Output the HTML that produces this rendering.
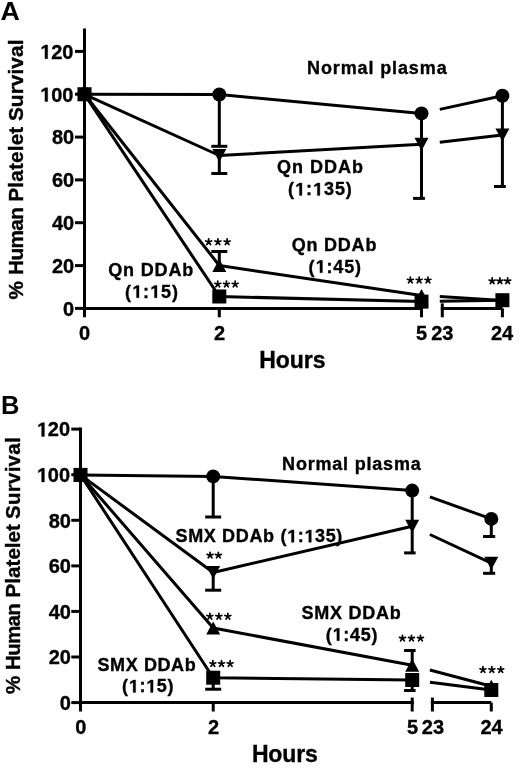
<!DOCTYPE html>
<html><head><meta charset="utf-8"><style>
html,body{margin:0;padding:0;background:#fff;}
svg{display:block;will-change:transform;}
.h1{fill:none;stroke:none;}
text{font-family:"Liberation Sans", sans-serif;fill:#000;stroke:#000;stroke-width:0.35px;}
</style></head><body>
<svg width="520" height="768" viewBox="0 0 520 768">
<g stroke="#000" fill="#000">
<line x1="84.5" y1="28.5" x2="84.5" y2="317.3" stroke-width="3.0" stroke-linecap="butt"/>
<line x1="75.0" y1="308.4" x2="84.5" y2="308.4" stroke-width="3.0" stroke-linecap="butt"/>
<line x1="75.0" y1="265.6" x2="84.5" y2="265.6" stroke-width="3.0" stroke-linecap="butt"/>
<line x1="75.0" y1="222.7" x2="84.5" y2="222.7" stroke-width="3.0" stroke-linecap="butt"/>
<line x1="75.0" y1="179.9" x2="84.5" y2="179.9" stroke-width="3.0" stroke-linecap="butt"/>
<line x1="75.0" y1="137.1" x2="84.5" y2="137.1" stroke-width="3.0" stroke-linecap="butt"/>
<line x1="75.0" y1="94.2" x2="84.5" y2="94.2" stroke-width="3.0" stroke-linecap="butt"/>
<line x1="75.0" y1="51.4" x2="84.5" y2="51.4" stroke-width="3.0" stroke-linecap="butt"/>
<line x1="84.5" y1="308.4" x2="423.0" y2="308.4" stroke-width="3.0" stroke-linecap="butt"/>
<line x1="219.3" y1="308.4" x2="219.3" y2="317.3" stroke-width="3.0" stroke-linecap="butt"/>
<line x1="421.5" y1="308.4" x2="421.5" y2="317.3" stroke-width="3.0" stroke-linecap="butt"/>
<line x1="421.5" y1="303.4" x2="421.5" y2="308.4" stroke-width="3.0" stroke-linecap="butt"/>
<line x1="440.8" y1="308.4" x2="502.4" y2="308.4" stroke-width="3.0" stroke-linecap="butt"/>
<line x1="442.3" y1="303.4" x2="442.3" y2="317.3" stroke-width="3.0" stroke-linecap="butt"/>
<line x1="502.4" y1="308.4" x2="502.4" y2="317.3" stroke-width="3.0" stroke-linecap="butt"/>
<polyline points="84.5,94.3 219.3,94.5 421.5,113.4" fill="none" stroke-width="3.0" stroke-linejoin="round"/>
<line x1="439.8" y1="109.4" x2="502.4" y2="95.8" stroke-width="3.0" stroke-linecap="butt"/>
<polyline points="84.5,94.3 219.3,155.5 421.5,144.3" fill="none" stroke-width="3.0" stroke-linejoin="round"/>
<line x1="439.8" y1="142.2" x2="502.4" y2="135.0" stroke-width="3.0" stroke-linecap="butt"/>
<polyline points="84.5,94.3 219.3,265.5 421.5,295.5" fill="none" stroke-width="3.0" stroke-linejoin="round"/>
<line x1="439.8" y1="296.6" x2="502.4" y2="300.5" stroke-width="3.0" stroke-linecap="butt"/>
<polyline points="84.5,94.3 219.3,296.5 421.5,301.6" fill="none" stroke-width="3.0" stroke-linejoin="round"/>
<line x1="439.8" y1="301.3" x2="502.4" y2="300.2" stroke-width="3.0" stroke-linecap="butt"/>
<line x1="219.3" y1="94.5" x2="219.3" y2="146.3" stroke-width="3.0" stroke-linecap="butt"/>
<line x1="211.3" y1="146.3" x2="227.3" y2="146.3" stroke-width="3.0" stroke-linecap="butt"/>
<line x1="421.5" y1="113.4" x2="421.5" y2="140.0" stroke-width="3.0" stroke-linecap="butt"/>
<line x1="502.4" y1="95.8" x2="502.4" y2="130.0" stroke-width="3.0" stroke-linecap="butt"/>
<line x1="219.3" y1="155.5" x2="219.3" y2="173.5" stroke-width="3.0" stroke-linecap="butt"/>
<line x1="211.3" y1="173.5" x2="227.3" y2="173.5" stroke-width="3.0" stroke-linecap="butt"/>
<line x1="421.5" y1="144.3" x2="421.5" y2="198.4" stroke-width="3.0" stroke-linecap="butt"/>
<line x1="413.1" y1="198.4" x2="424.9" y2="198.4" stroke-width="3.0" stroke-linecap="butt"/>
<line x1="502.4" y1="135.0" x2="502.4" y2="186.5" stroke-width="3.0" stroke-linecap="butt"/>
<line x1="494.0" y1="186.5" x2="505.8" y2="186.5" stroke-width="3.0" stroke-linecap="butt"/>
<line x1="219.3" y1="265.5" x2="219.3" y2="251.5" stroke-width="3.0" stroke-linecap="butt"/>
<line x1="211.3" y1="251.5" x2="227.3" y2="251.5" stroke-width="3.0" stroke-linecap="butt"/>
<circle cx="84.5" cy="94.3" r="7" stroke="none"/>
<circle cx="219.3" cy="94.5" r="7" stroke="none"/>
<circle cx="421.5" cy="113.4" r="7" stroke="none"/>
<circle cx="502.4" cy="95.8" r="7" stroke="none"/>
<polygon points="77.5,87.8 91.5,87.8 84.5,100.8" stroke="none"/>
<polygon points="212.3,149.0 226.3,149.0 219.3,162.0" stroke="none"/>
<polygon points="414.5,137.8 428.5,137.8 421.5,150.8" stroke="none"/>
<polygon points="495.4,128.5 509.4,128.5 502.4,141.5" stroke="none"/>
<polygon points="84.5,87.8 91.5,100.8 77.5,100.8" stroke="none"/>
<polygon points="219.3,259.0 226.3,272.0 212.3,272.0" stroke="none"/>
<polygon points="421.5,289.0 428.5,302.0 414.5,302.0" stroke="none"/>
<polygon points="502.4,294.0 509.4,307.0 495.4,307.0" stroke="none"/>
<rect x="77.5" y="87.3" width="14" height="14" stroke="none"/>
<rect x="212.3" y="289.5" width="14" height="14" stroke="none"/>
<rect x="414.5" y="294.6" width="14" height="14" stroke="none"/>
<rect x="495.4" y="293.2" width="14" height="14" stroke="none"/>
<line x1="80.5" y1="427.6" x2="80.5" y2="711.5" stroke-width="3.0" stroke-linecap="butt"/>
<line x1="71.3" y1="702.6" x2="80.5" y2="702.6" stroke-width="3.0" stroke-linecap="butt"/>
<line x1="71.3" y1="657.0" x2="80.5" y2="657.0" stroke-width="3.0" stroke-linecap="butt"/>
<line x1="71.3" y1="611.4" x2="80.5" y2="611.4" stroke-width="3.0" stroke-linecap="butt"/>
<line x1="71.3" y1="565.9" x2="80.5" y2="565.9" stroke-width="3.0" stroke-linecap="butt"/>
<line x1="71.3" y1="520.3" x2="80.5" y2="520.3" stroke-width="3.0" stroke-linecap="butt"/>
<line x1="71.3" y1="474.7" x2="80.5" y2="474.7" stroke-width="3.0" stroke-linecap="butt"/>
<line x1="71.3" y1="429.1" x2="80.5" y2="429.1" stroke-width="3.0" stroke-linecap="butt"/>
<line x1="80.5" y1="702.6" x2="413.8" y2="702.6" stroke-width="3.0" stroke-linecap="butt"/>
<line x1="213.2" y1="702.6" x2="213.2" y2="711.5" stroke-width="3.0" stroke-linecap="butt"/>
<line x1="412.2" y1="702.6" x2="412.2" y2="711.5" stroke-width="3.0" stroke-linecap="butt"/>
<line x1="412.2" y1="697.6" x2="412.2" y2="702.6" stroke-width="3.0" stroke-linecap="butt"/>
<line x1="430.9" y1="702.6" x2="491.3" y2="702.6" stroke-width="3.0" stroke-linecap="butt"/>
<line x1="432.4" y1="697.6" x2="432.4" y2="711.5" stroke-width="3.0" stroke-linecap="butt"/>
<line x1="491.3" y1="702.6" x2="491.3" y2="711.5" stroke-width="3.0" stroke-linecap="butt"/>
<polyline points="80.5,474.9 213.2,476.4 412.2,490.6" fill="none" stroke-width="3.0" stroke-linejoin="round"/>
<line x1="429.9" y1="496.9" x2="491.3" y2="518.9" stroke-width="3.0" stroke-linecap="butt"/>
<polyline points="80.5,474.9 213.2,572.5 412.2,526.3" fill="none" stroke-width="3.0" stroke-linejoin="round"/>
<line x1="429.9" y1="534.5" x2="491.3" y2="563.2" stroke-width="3.0" stroke-linecap="butt"/>
<polyline points="80.5,474.9 213.2,628.0 412.2,665.3" fill="none" stroke-width="3.0" stroke-linejoin="round"/>
<line x1="429.9" y1="670.0" x2="491.3" y2="686.2" stroke-width="3.0" stroke-linecap="butt"/>
<polyline points="80.5,474.9 213.2,677.7 412.2,680.0" fill="none" stroke-width="3.0" stroke-linejoin="round"/>
<line x1="429.9" y1="682.2" x2="491.3" y2="690.0" stroke-width="3.0" stroke-linecap="butt"/>
<line x1="213.2" y1="476.4" x2="213.2" y2="517.0" stroke-width="3.0" stroke-linecap="butt"/>
<line x1="205.2" y1="517.0" x2="221.2" y2="517.0" stroke-width="3.0" stroke-linecap="butt"/>
<line x1="412.2" y1="490.6" x2="412.2" y2="521.0" stroke-width="3.0" stroke-linecap="butt"/>
<line x1="491.3" y1="518.9" x2="491.3" y2="536.5" stroke-width="3.0" stroke-linecap="butt"/>
<line x1="483.0" y1="536.5" x2="495.2" y2="536.5" stroke-width="3.0" stroke-linecap="butt"/>
<line x1="213.2" y1="572.5" x2="213.2" y2="590.2" stroke-width="3.0" stroke-linecap="butt"/>
<line x1="205.2" y1="590.2" x2="221.2" y2="590.2" stroke-width="3.0" stroke-linecap="butt"/>
<line x1="412.2" y1="526.3" x2="412.2" y2="552.9" stroke-width="3.0" stroke-linecap="butt"/>
<line x1="404.1" y1="552.9" x2="415.6" y2="552.9" stroke-width="3.0" stroke-linecap="butt"/>
<line x1="491.3" y1="563.2" x2="491.3" y2="573.3" stroke-width="3.0" stroke-linecap="butt"/>
<line x1="483.0" y1="573.3" x2="495.2" y2="573.3" stroke-width="3.0" stroke-linecap="butt"/>
<line x1="412.2" y1="665.3" x2="412.2" y2="650.5" stroke-width="3.0" stroke-linecap="butt"/>
<line x1="404.1" y1="650.5" x2="415.6" y2="650.5" stroke-width="3.0" stroke-linecap="butt"/>
<line x1="213.2" y1="677.7" x2="213.2" y2="689.2" stroke-width="3.0" stroke-linecap="butt"/>
<line x1="205.2" y1="689.2" x2="221.2" y2="689.2" stroke-width="3.0" stroke-linecap="butt"/>
<line x1="412.2" y1="680.0" x2="412.2" y2="690.5" stroke-width="3.0" stroke-linecap="butt"/>
<line x1="404.1" y1="690.5" x2="415.6" y2="690.5" stroke-width="3.0" stroke-linecap="butt"/>
<circle cx="80.5" cy="474.9" r="7" stroke="none"/>
<circle cx="213.2" cy="476.4" r="7" stroke="none"/>
<circle cx="412.2" cy="490.6" r="7" stroke="none"/>
<circle cx="491.3" cy="518.9" r="7" stroke="none"/>
<polygon points="73.5,468.4 87.5,468.4 80.5,481.4" stroke="none"/>
<polygon points="206.2,566.0 220.2,566.0 213.2,579.0" stroke="none"/>
<polygon points="405.2,519.8 419.2,519.8 412.2,532.8" stroke="none"/>
<polygon points="484.3,556.7 498.3,556.7 491.3,569.7" stroke="none"/>
<polygon points="80.5,468.4 87.5,481.4 73.5,481.4" stroke="none"/>
<polygon points="213.2,621.5 220.2,634.5 206.2,634.5" stroke="none"/>
<polygon points="412.2,658.8 419.2,671.8 405.2,671.8" stroke="none"/>
<polygon points="491.3,679.7 498.3,692.7 484.3,692.7" stroke="none"/>
<rect x="73.5" y="467.9" width="14" height="14" stroke="none"/>
<rect x="206.2" y="670.7" width="14" height="14" stroke="none"/>
<rect x="405.2" y="673.0" width="14" height="14" stroke="none"/>
<rect x="484.3" y="683.0" width="14" height="14" stroke="none"/>
<path d="M208.65 241.95L208.65 238.85M208.65 241.95L211.60 240.99M208.65 241.95L210.47 244.46M208.65 241.95L206.83 244.46M208.65 241.95L205.70 240.99" fill="none" stroke-width="1.75" stroke-linecap="round"/>
<path d="M217.90 241.95L217.90 238.85M217.90 241.95L220.85 240.99M217.90 241.95L219.72 244.46M217.90 241.95L216.08 244.46M217.90 241.95L214.95 240.99" fill="none" stroke-width="1.75" stroke-linecap="round"/>
<path d="M227.15 241.95L227.15 238.85M227.15 241.95L230.10 240.99M227.15 241.95L228.97 244.46M227.15 241.95L225.33 244.46M227.15 241.95L224.20 240.99" fill="none" stroke-width="1.75" stroke-linecap="round"/>
<path d="M217.75 284.25L217.75 281.15M217.75 284.25L220.70 283.29M217.75 284.25L219.57 286.76M217.75 284.25L215.93 286.76M217.75 284.25L214.80 283.29" fill="none" stroke-width="1.75" stroke-linecap="round"/>
<path d="M226.45 284.25L226.45 281.15M226.45 284.25L229.40 283.29M226.45 284.25L228.27 286.76M226.45 284.25L224.63 286.76M226.45 284.25L223.50 283.29" fill="none" stroke-width="1.75" stroke-linecap="round"/>
<path d="M235.15 284.25L235.15 281.15M235.15 284.25L238.10 283.29M235.15 284.25L236.97 286.76M235.15 284.25L233.33 286.76M235.15 284.25L232.20 283.29" fill="none" stroke-width="1.75" stroke-linecap="round"/>
<path d="M410.35 280.25L410.35 277.15M410.35 280.25L413.30 279.29M410.35 280.25L412.17 282.76M410.35 280.25L408.53 282.76M410.35 280.25L407.40 279.29" fill="none" stroke-width="1.75" stroke-linecap="round"/>
<path d="M419.15 280.25L419.15 277.15M419.15 280.25L422.10 279.29M419.15 280.25L420.97 282.76M419.15 280.25L417.33 282.76M419.15 280.25L416.20 279.29" fill="none" stroke-width="1.75" stroke-linecap="round"/>
<path d="M427.95 280.25L427.95 277.15M427.95 280.25L430.90 279.29M427.95 280.25L429.77 282.76M427.95 280.25L426.13 282.76M427.95 280.25L425.00 279.29" fill="none" stroke-width="1.75" stroke-linecap="round"/>
<path d="M492.15 281.05L492.15 277.95M492.15 281.05L495.10 280.09M492.15 281.05L493.97 283.56M492.15 281.05L490.33 283.56M492.15 281.05L489.20 280.09" fill="none" stroke-width="1.75" stroke-linecap="round"/>
<path d="M499.90 281.05L499.90 277.95M499.90 281.05L502.85 280.09M499.90 281.05L501.72 283.56M499.90 281.05L498.08 283.56M499.90 281.05L496.95 280.09" fill="none" stroke-width="1.75" stroke-linecap="round"/>
<path d="M507.65 281.05L507.65 277.95M507.65 281.05L510.60 280.09M507.65 281.05L509.47 283.56M507.65 281.05L505.83 283.56M507.65 281.05L504.70 280.09" fill="none" stroke-width="1.75" stroke-linecap="round"/>
<path d="M210.05 555.35L210.05 552.25M210.05 555.35L213.00 554.39M210.05 555.35L211.87 557.86M210.05 555.35L208.23 557.86M210.05 555.35L207.10 554.39" fill="none" stroke-width="1.75" stroke-linecap="round"/>
<path d="M218.35 555.35L218.35 552.25M218.35 555.35L221.30 554.39M218.35 555.35L220.17 557.86M218.35 555.35L216.53 557.86M218.35 555.35L215.40 554.39" fill="none" stroke-width="1.75" stroke-linecap="round"/>
<path d="M209.85 616.45L209.85 613.35M209.85 616.45L212.80 615.49M209.85 616.45L211.67 618.96M209.85 616.45L208.03 618.96M209.85 616.45L206.90 615.49" fill="none" stroke-width="1.75" stroke-linecap="round"/>
<path d="M218.85 616.45L218.85 613.35M218.85 616.45L221.80 615.49M218.85 616.45L220.67 618.96M218.85 616.45L217.03 618.96M218.85 616.45L215.90 615.49" fill="none" stroke-width="1.75" stroke-linecap="round"/>
<path d="M227.85 616.45L227.85 613.35M227.85 616.45L230.80 615.49M227.85 616.45L229.67 618.96M227.85 616.45L226.03 618.96M227.85 616.45L224.90 615.49" fill="none" stroke-width="1.75" stroke-linecap="round"/>
<path d="M212.85 663.75L212.85 660.65M212.85 663.75L215.80 662.79M212.85 663.75L214.67 666.26M212.85 663.75L211.03 666.26M212.85 663.75L209.90 662.79" fill="none" stroke-width="1.75" stroke-linecap="round"/>
<path d="M221.50 663.75L221.50 660.65M221.50 663.75L224.45 662.79M221.50 663.75L223.32 666.26M221.50 663.75L219.68 666.26M221.50 663.75L218.55 662.79" fill="none" stroke-width="1.75" stroke-linecap="round"/>
<path d="M230.15 663.75L230.15 660.65M230.15 663.75L233.10 662.79M230.15 663.75L231.97 666.26M230.15 663.75L228.33 666.26M230.15 663.75L227.20 662.79" fill="none" stroke-width="1.75" stroke-linecap="round"/>
<path d="M402.45 638.35L402.45 635.25M402.45 638.35L405.40 637.39M402.45 638.35L404.27 640.86M402.45 638.35L400.63 640.86M402.45 638.35L399.50 637.39" fill="none" stroke-width="1.75" stroke-linecap="round"/>
<path d="M411.45 638.35L411.45 635.25M411.45 638.35L414.40 637.39M411.45 638.35L413.27 640.86M411.45 638.35L409.63 640.86M411.45 638.35L408.50 637.39" fill="none" stroke-width="1.75" stroke-linecap="round"/>
<path d="M420.45 638.35L420.45 635.25M420.45 638.35L423.40 637.39M420.45 638.35L422.27 640.86M420.45 638.35L418.63 640.86M420.45 638.35L417.50 637.39" fill="none" stroke-width="1.75" stroke-linecap="round"/>
<path d="M482.95 669.75L482.95 666.65M482.95 669.75L485.90 668.79M482.95 669.75L484.77 672.26M482.95 669.75L481.13 672.26M482.95 669.75L480.00 668.79" fill="none" stroke-width="1.75" stroke-linecap="round"/>
<path d="M491.85 669.75L491.85 666.65M491.85 669.75L494.80 668.79M491.85 669.75L493.67 672.26M491.85 669.75L490.03 672.26M491.85 669.75L488.90 668.79" fill="none" stroke-width="1.75" stroke-linecap="round"/>
<path d="M500.75 669.75L500.75 666.65M500.75 669.75L503.70 668.79M500.75 669.75L502.57 672.26M500.75 669.75L498.93 672.26M500.75 669.75L497.80 668.79" fill="none" stroke-width="1.75" stroke-linecap="round"/>
<text x="63.00" y="315.70" font-size="20" font-weight="bold">0</text>
<text x="52.00" y="272.87" font-size="20" font-weight="bold">20</text>
<text x="52.00" y="230.03" font-size="20" font-weight="bold">40</text>
<text x="52.00" y="187.20" font-size="20" font-weight="bold">60</text>
<text x="52.00" y="144.36" font-size="20" font-weight="bold">80</text>
<text x="40.00" y="101.53" font-size="20" font-weight="bold"><tspan class="h1">1</tspan>00</text>
<text x="40.00" y="58.70" font-size="20" font-weight="bold"><tspan class="h1">1</tspan>20</text>
<text x="59.70" y="709.90" font-size="20" font-weight="bold">0</text>
<text x="48.70" y="664.32" font-size="20" font-weight="bold">20</text>
<text x="48.70" y="618.74" font-size="20" font-weight="bold">40</text>
<text x="48.70" y="573.16" font-size="20" font-weight="bold">60</text>
<text x="48.70" y="527.58" font-size="20" font-weight="bold">80</text>
<text x="36.70" y="482.00" font-size="20" font-weight="bold"><tspan class="h1">1</tspan>00</text>
<text x="36.70" y="436.42" font-size="20" font-weight="bold"><tspan class="h1">1</tspan>20</text>
<text x="79.10" y="339.70" font-size="20" font-weight="bold">0</text>
<text x="214.00" y="339.70" font-size="20" font-weight="bold">2</text>
<text x="416.00" y="339.70" font-size="20" font-weight="bold">5</text>
<text x="431.20" y="339.70" font-size="20" font-weight="bold">23</text>
<text x="491.00" y="339.70" font-size="20" font-weight="bold">24</text>
<text x="75.30" y="733.50" font-size="20" font-weight="bold">0</text>
<text x="208.00" y="733.50" font-size="20" font-weight="bold">2</text>
<text x="406.90" y="733.50" font-size="20" font-weight="bold">5</text>
<text x="421.80" y="733.50" font-size="20" font-weight="bold">23</text>
<text x="480.50" y="733.50" font-size="20" font-weight="bold">24</text>
<text x="0" y="0" transform="translate(0.4,19.5) scale(1.07,1)" font-size="25" font-weight="bold" style="stroke:none">A</text>
<text x="1.00" y="413.70" font-size="25.5" font-weight="bold" style="stroke:none">B</text>
<text x="0" y="0" transform="translate(22.50,299.40) rotate(-90)" font-size="20.8" font-weight="bold">%</text>
<text x="0" y="0" transform="translate(22.50,275.00) rotate(-90)" font-size="20.8" font-weight="bold" letter-spacing="-0.625">Human</text>
<text x="0" y="0" transform="translate(22.50,201.70) rotate(-90)" font-size="20.8" font-weight="bold" letter-spacing="0.143">Platelet</text>
<text x="0" y="0" transform="translate(22.50,121.10) rotate(-90)" font-size="20.8" font-weight="bold" letter-spacing="0.086">Survival</text>
<text x="0" y="0" transform="translate(19.60,694.10) rotate(-90)" font-size="20.5" font-weight="bold">%</text>
<text x="0" y="0" transform="translate(19.60,670.00) rotate(-90)" font-size="20.5" font-weight="bold" letter-spacing="-0.65">Human</text>
<text x="0" y="0" transform="translate(19.60,597.50) rotate(-90)" font-size="20.5" font-weight="bold" letter-spacing="0.071">Platelet</text>
<text x="0" y="0" transform="translate(19.60,519.00) rotate(-90)" font-size="20.5" font-weight="bold" letter-spacing="0.271">Survival</text>
<text x="259.20" y="368.40" font-size="23" font-weight="bold" letter-spacing="-0.05">Hours</text>
<text x="251.90" y="762.30" font-size="23" font-weight="bold" letter-spacing="-0.15">Hours</text>
<text x="307.00" y="74.20" font-size="18" font-weight="bold" letter-spacing="0.883">Normal plasma</text>
<text x="276.90" y="172.70" font-size="18" font-weight="bold" letter-spacing="1.0">Qn DDAb</text>
<text x="288.00" y="195.40" font-size="18" font-weight="bold" letter-spacing="0.967">(<tspan class="h1">1</tspan>:<tspan class="h1">1</tspan>35)</text>
<text x="291.70" y="250.60" font-size="18" font-weight="bold" letter-spacing="0.783">Qn DDAb</text>
<text x="308.60" y="272.70" font-size="18" font-weight="bold" letter-spacing="0.88">(<tspan class="h1">1</tspan>:45)</text>
<text x="108.20" y="275.70" font-size="18" font-weight="bold" letter-spacing="0.85">Qn DDAb</text>
<text x="125.10" y="297.80" font-size="18" font-weight="bold" letter-spacing="0.96">(<tspan class="h1">1</tspan>:<tspan class="h1">1</tspan>5)</text>
<text x="282.10" y="469.60" font-size="18" font-weight="bold" letter-spacing="0.8">Normal plasma</text>
<text x="175.50" y="542.30" font-size="18" font-weight="bold" letter-spacing="0.653">SMX DDAb (<tspan class="h1">1</tspan>:<tspan class="h1">1</tspan>35)</text>
<text x="301.40" y="618.70" font-size="18" font-weight="bold" letter-spacing="0.757">SMX DDAb</text>
<text x="325.70" y="640.70" font-size="18" font-weight="bold" letter-spacing="0.74">(<tspan class="h1">1</tspan>:45)</text>
<text x="97.50" y="670.70" font-size="18" font-weight="bold" letter-spacing="0.6">SMX DDAb</text>
<text x="122.00" y="692.40" font-size="18" font-weight="bold" letter-spacing="0.7">(<tspan class="h1">1</tspan>:<tspan class="h1">1</tspan>5)</text>
<path d="M505 0L505 1150L170 955L170 1180L525 1409L790 1409L790 0Z" transform="translate(40.00,101.53) scale(0.009766,-0.009766)" stroke-width="35.8" stroke-linejoin="miter"/>
<path d="M505 0L505 1150L170 955L170 1180L525 1409L790 1409L790 0Z" transform="translate(40.00,58.70) scale(0.009766,-0.009766)" stroke-width="35.8" stroke-linejoin="miter"/>
<path d="M505 0L505 1150L170 955L170 1180L525 1409L790 1409L790 0Z" transform="translate(36.70,482.00) scale(0.009766,-0.009766)" stroke-width="35.8" stroke-linejoin="miter"/>
<path d="M505 0L505 1150L170 955L170 1180L525 1409L790 1409L790 0Z" transform="translate(36.70,436.42) scale(0.009766,-0.009766)" stroke-width="35.8" stroke-linejoin="miter"/>
<path d="M505 0L505 1150L170 955L170 1180L525 1409L790 1409L790 0Z" transform="translate(294.97,195.40) scale(0.008789,-0.008789)" stroke-width="39.8" stroke-linejoin="miter"/>
<path d="M505 0L505 1150L170 955L170 1180L525 1409L790 1409L790 0Z" transform="translate(312.92,195.40) scale(0.008789,-0.008789)" stroke-width="39.8" stroke-linejoin="miter"/>
<path d="M505 0L505 1150L170 955L170 1180L525 1409L790 1409L790 0Z" transform="translate(315.48,272.70) scale(0.008789,-0.008789)" stroke-width="39.8" stroke-linejoin="miter"/>
<path d="M505 0L505 1150L170 955L170 1180L525 1409L790 1409L790 0Z" transform="translate(132.07,297.80) scale(0.008789,-0.008789)" stroke-width="39.8" stroke-linejoin="miter"/>
<path d="M505 0L505 1150L170 955L170 1180L525 1409L790 1409L790 0Z" transform="translate(150.02,297.80) scale(0.008789,-0.008789)" stroke-width="39.8" stroke-linejoin="miter"/>
<path d="M505 0L505 1150L170 955L170 1180L525 1409L790 1409L790 0Z" transform="translate(287.03,542.30) scale(0.008789,-0.008789)" stroke-width="39.8" stroke-linejoin="miter"/>
<path d="M505 0L505 1150L170 955L170 1180L525 1409L790 1409L790 0Z" transform="translate(304.36,542.30) scale(0.008789,-0.008789)" stroke-width="39.8" stroke-linejoin="miter"/>
<path d="M505 0L505 1150L170 955L170 1180L525 1409L790 1409L790 0Z" transform="translate(332.43,640.70) scale(0.008789,-0.008789)" stroke-width="39.8" stroke-linejoin="miter"/>
<path d="M505 0L505 1150L170 955L170 1180L525 1409L790 1409L790 0Z" transform="translate(128.70,692.40) scale(0.008789,-0.008789)" stroke-width="39.8" stroke-linejoin="miter"/>
<path d="M505 0L505 1150L170 955L170 1180L525 1409L790 1409L790 0Z" transform="translate(146.12,692.40) scale(0.008789,-0.008789)" stroke-width="39.8" stroke-linejoin="miter"/>
</g>
</svg>
</body></html>
